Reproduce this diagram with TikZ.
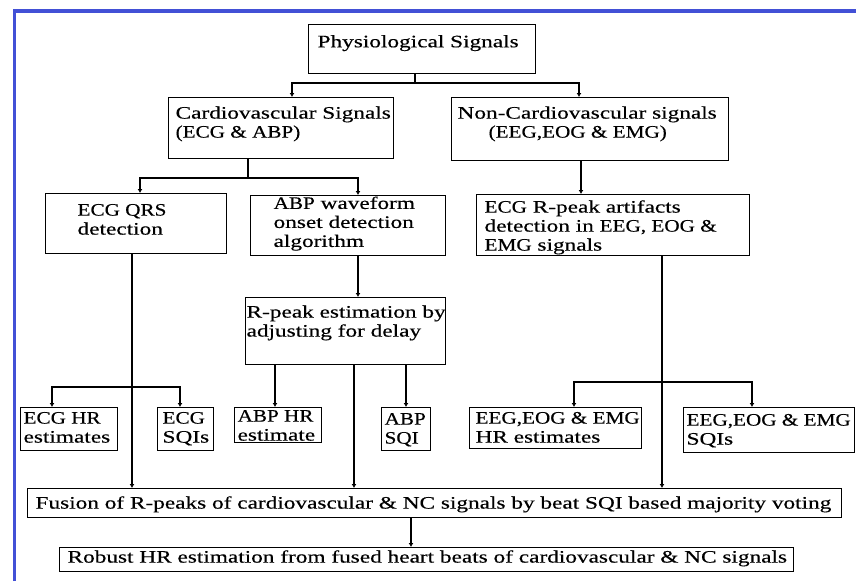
\documentclass[tikz,border=0pt]{standalone}
\usepackage{fontspec}
\usepackage{graphicx}
\setmainfont{Liberation Serif}[FakeStretch=1.33,FakeBold=0.4]
\usetikzlibrary{arrows.meta}
\definecolor{frameblue}{RGB}{66,80,214}
\newcommand\bt[5]{\parbox[c][#2][t]{#1}{\vspace*{#4}\hspace*{#3}\begin{tabular}[t]{@{}l@{}}#5\end{tabular}}}
\newcommand\cp[1]{\scalebox{0.91}[1]{#1}}
\tikzset{
  box/.style={draw, line width=1.2pt, inner sep=0pt, anchor=north west},
  ln/.style={line width=1.3pt},
  arr/.style={line width=1.3pt, -{Latex[length=4pt,width=5pt]}}
}
\begin{document}
\begin{tikzpicture}[x=1pt,y=-1pt,font=\fontsize{17.5}{19}\selectfont]
\useasboundingbox[fill=white] (0,0) rectangle (856,581);
\draw[frameblue, line width=3.2pt] (14.5,581) -- (14.5,11) -- (856,11);

\node[box] (phys) at (308,24) {\bt{227pt}{49pt}{9pt}{9.4pt}{Physiological Signals}};
\node[box] (cardio) at (168,97) {\bt{225pt}{61pt}{7pt}{7.7pt}{Cardiovascular Signals\\\cp{(ECG \& ABP)}}};
\node[box] (noncardio) at (451,97) {\bt{277pt}{63pt}{6pt}{7.7pt}{Non-Cardiovascular signals\\\hspace*{31pt}\cp{(EEG,EOG \& EMG)}}};
\node[box] (ecgqrs) at (45,193) {\bt{181pt}{60pt}{32pt}{8.7pt}{\cp{ECG QRS}\\detection}};
\node[box] (abp) at (250,195) {\bt{195pt}{60pt}{23pt}{0pt}{\cp{ABP} waveform\\onset detection\\algorithm}};
\node[box] (artifacts) at (476,194) {\bt{273pt}{61pt}{8pt}{4.7pt}{\cp{ECG} R-peak artifacts\\detection in \cp{EEG, EOG \&}\\\cp{EMG} signals}};
\node[box] (rpeak) at (245,297) {\bt{200pt}{67pt}{1pt}{6.7pt}{R-peak estimation by\\adjusting for delay}};
\node[box] (ecghr) at (20,407) {\bt{97pt}{43pt}{3pt}{2.7pt}{\cp{ECG HR}\\estimates}};
\node[box] (ecgsqi) at (157,407) {\bt{56pt}{43pt}{5pt}{2.7pt}{\cp{ECG}\\SQIs}};
\node[box] (abphr) at (234,407) {\bt{87pt}{35pt}{3pt}{0.7pt}{\cp{ABP HR}\\estimate}};
\node[box] (abpsqi) at (381,407) {\bt{49pt}{43pt}{3pt}{3.7pt}{\cp{ABP}\\\cp{SQI}}};
\node[box] (eeghr) at (469,407) {\bt{172pt}{41pt}{6pt}{2.7pt}{\cp{EEG,EOG \& EMG}\\HR estimates}};
\node[box] (eegsqi) at (683,407) {\bt{171pt}{45pt}{3pt}{4.7pt}{\cp{EEG,EOG \& EMG}\\SQIs}};
\node[box] (fusion) at (27,488) {\bt{814pt}{29pt}{8pt}{6.7pt}{Fusion of R-peaks of cardiovascular \& NC signals by beat SQI based majority voting}};
\node[box] (robust) at (59,547) {\bt{734pt}{24pt}{8pt}{1.7pt}{Robust HR estimation from fused heart beats of cardiovascular \& NC signals}};

% level 1
\coordinate (a0) at (415,83);
\coordinate (a1) at (292,83);
\coordinate (a2) at (579,83);
\draw[arr] (phys.south -| a0) -- (a0) -| (cardio.north -| a1);
\draw[arr] (a0) -| (noncardio.north -| a2);
% level 2
\coordinate (b0) at (248,178);
\coordinate (b1) at (140,178);
\coordinate (b2) at (358,178);
\draw[arr] (cardio.south -| b0) -- (b0) -| (ecgqrs.north -| b1);
\draw[arr] (b0) -| (abp.north -| b2);
\coordinate (c0) at (581,170);
\draw[arr] (noncardio.south -| c0) -- (artifacts.north -| c0);
\draw[arr] (abp.south -| b2) -- (rpeak.north -| b2);
% ECG branch
\coordinate (d0) at (132,387);
\coordinate (d1) at (52,387);
\coordinate (d2) at (180,387);
\draw[ln] (ecgqrs.south -| d0) -- (d0);
\draw[arr] (d0) -| (ecghr.north -| d1);
\draw[arr] (d0) -| (ecgsqi.north -| d2);
\draw[arr] (d0) -- (fusion.north -| d0);
% ABP branch
\coordinate (e1) at (275,380);
\coordinate (e2) at (354,380);
\coordinate (e3) at (406,380);
\draw[arr] (rpeak.south -| e1) -- (abphr.north -| e1);
\draw[arr] (rpeak.south -| e2) -- (fusion.north -| e2);
\draw[arr] (rpeak.south -| e3) -- (abpsqi.north -| e3);
% NC branch
\coordinate (f0) at (662,382);
\coordinate (f1) at (574,382);
\coordinate (f2) at (752,382);
\draw[ln] (artifacts.south -| f0) -- (f0);
\draw[arr] (f0) -| (eeghr.north -| f1);
\draw[arr] (f0) -| (eegsqi.north -| f2);
\draw[arr] (f0) -- (fusion.north -| f0);
% final
\coordinate (g0) at (411,530);
\draw[arr] (fusion.south -| g0) -- (robust.north -| g0);
\end{tikzpicture}
\end{document}
